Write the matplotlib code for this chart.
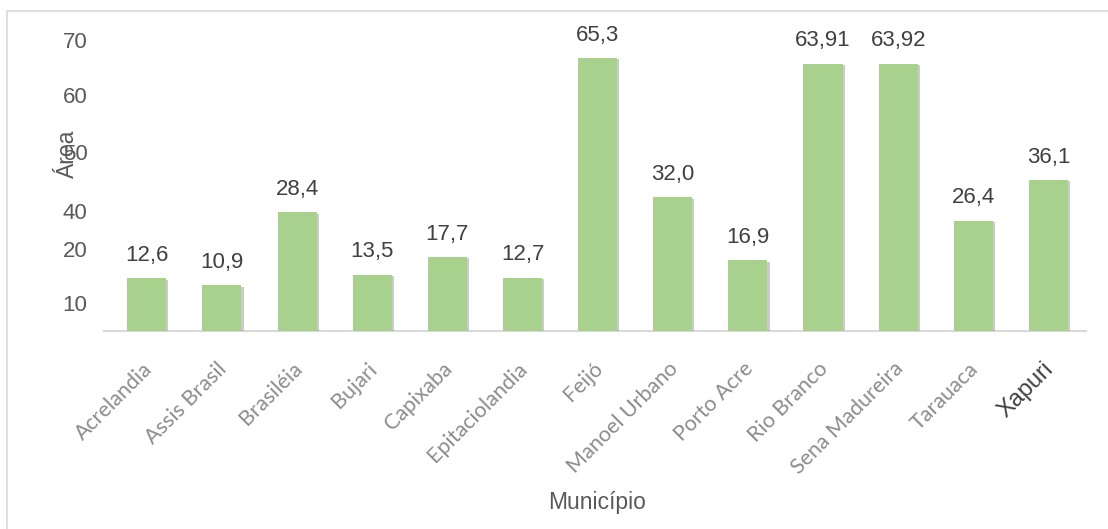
import matplotlib.pyplot as plt
import matplotlib.patheffects as pe
import matplotlib.transforms as mtransforms
from matplotlib.patches import Rectangle

# dados
municipios = ['Acrelandia', 'Assis Brasil', 'Brasiléia', 'Bujari', 'Capixaba',
              'Epitaciolandia', 'Feijó', 'Manoel Urbano', 'Porto Acre',
              'Rio Branco', 'Sena Madureira', 'Tarauaca', 'Xapuri']
area = [12.6, 10.9, 28.4, 13.5, 17.7, 12.7, 65.3, 32.0, 16.9, 63.91, 63.92, 26.4, 36.1]
rotulos = ['12,6', '10,9', '28,4', '13,5', '17,7', '12,7', '65,3', '32,0', '16,9',
           '63,91', '63,92', '26,4', '36,1']
# rótulos do eixo y (posições como aparecem no original)
ytick_pos = [69.6, 56.5, 42.8, 28.7, 19.6, 6.7]
ytick_lab = ['70', '60', '50', '40', '20', '10']

plt.rcParams['font.family'] = ['Liberation Sans', 'DejaVu Sans']

fig = plt.figure(figsize=(11.08, 5.29), dpi=100)
ax = fig.add_axes([104 / 1108, (529 - 331) / 529, (1086 - 104) / 1108, 301 / 529])

# moldura externa
fig.patches.append(Rectangle((7 / 1108, -0.1), 1.2, (529 - 11) / 529 + 0.1,
                             transform=fig.transFigure, fill=False,
                             edgecolor='#d9d9d9', linewidth=1.2))

x = range(len(municipios))
bars = ax.bar(x, area, width=0.52, color='#a9d18e', zorder=3)
for b in bars:
    b.set_path_effects([pe.SimplePatchShadow(offset=(1.5, -1), shadow_rgbFace='#999999', alpha=0.5),
                        pe.Normal()])

for xi, v, t in zip(x, area, rotulos):
    ax.annotate(t, (xi, v), textcoords='offset points', xytext=(0, 9),
                ha='center', va='bottom', fontsize=16, color='#404040')

ax.set_xlim(-0.57, 12.5)
ax.set_ylim(0, 72)
ax.set_yticks(ytick_pos)
ax.set_yticklabels(ytick_lab, fontsize=16, color='#595959')
ax.tick_params(axis='y', length=0, pad=12)

ax.set_xticks(list(x))
ax.set_xticklabels(municipios, rotation=45, ha='right', va='center', rotation_mode='anchor',
                   fontsize=15.5, color='#8c8c8c', family='Lato')
ax.tick_params(axis='x', length=0, pad=25)
for lab in ax.get_xticklabels():
    lab.set_transform(lab.get_transform() + mtransforms.ScaledTranslation(0.02, 0, fig.dpi_scale_trans))

xl = ax.get_xticklabels()[-1]
xl.set_color('#404040')
xl.set_family('Liberation Sans')
xl.set_fontsize(17)

for s in ['top', 'right', 'left']:
    ax.spines[s].set_visible(False)
ax.spines['bottom'].set_color('#d9d9d9')
ax.spines['bottom'].set_linewidth(1.5)

fig.text(597 / 1108, 1 - 503 / 529, 'Município', ha='center', va='center',
         fontsize=16.5, color='#595959')
fig.text(67 / 1108, 1 - 154 / 529, 'Área', ha='center', va='center',
         rotation=90, fontsize=16.5, color='#595959')

plt.savefig('out.png', dpi=100)
